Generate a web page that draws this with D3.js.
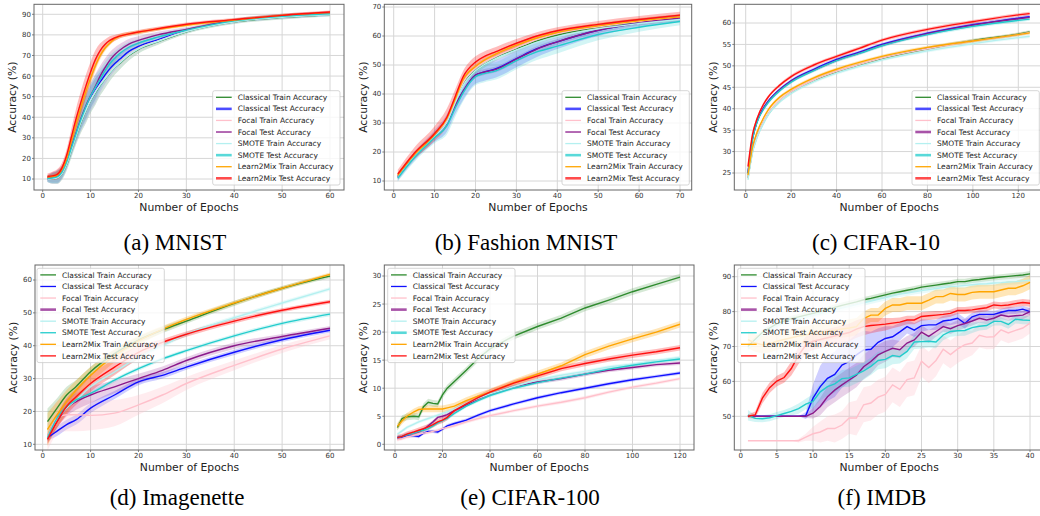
<!DOCTYPE html>
<html lang="en">
<head>
<meta charset="UTF-8">
<title>Accuracy vs epochs</title>
<script src="https://d3js.org/d3.v7.min.js"></script>
<style>
  body { margin: 0; background: #fff; }
  svg { display: block; }
</style>
</head>
<body>
<div id="chart"></div>
<script>
// legend order, shared by every panel
const seriesNames = ['Classical Train Accuracy', 'Classical Test Accuracy', 'Focal Train Accuracy', 'Focal Test Accuracy',
  'SMOTE Train Accuracy', 'SMOTE Test Accuracy', 'Learn2Mix Train Accuracy', 'Learn2Mix Test Accuracy'];
const seriesColors = ['#2e8b2e', '#1010ff', '#ffc0cb', '#8b1a8b', '#b4f0f0', '#22cccc', '#ffa500', '#ff1010'];

// (a) MNIST
const mnistEpochs = [1, 2, 3, 4, 5, 6, 7, 8, 9, 10, 11, 12, 13, 14, 15, 16, 18, 20, 24, 30, 40, 50, 60];
const mnistValues = [
  [10, 10.2, 10.6, 12.5, 17, 24, 31, 37.5, 43, 48, 52, 55.5, 58.5, 61.5, 64, 66, 70, 73, 76.6, 81.5, 86.3, 88.5, 89.8],
  [10, 10.3, 10.8, 13, 18, 25, 32, 38.5, 44, 49, 53, 57, 60.5, 63.5, 66, 68, 72, 74.4, 77.6, 82, 86.6, 88.8, 90],
  [10, 10.2, 10.7, 12.8, 17.5, 24.5, 31.5, 38, 43.5, 48.5, 52.5, 56, 59, 62, 64.5, 66.5, 70.5, 73.5, 77, 81.8, 86.5, 88.7, 89.9],
  [10.5, 10.8, 11.3, 13.5, 18.5, 25.5, 32.5, 39.5, 45.5, 50.5, 55, 60, 64, 67.6, 70.3, 72.4, 75.5, 77.3, 80, 82.7, 87, 89.3, 90.5],
  [10, 10.2, 10.6, 12.6, 17.2, 24, 31, 37.8, 43.2, 48.2, 52.2, 55.7, 58.7, 61.6, 64.2, 66.2, 70.2, 73.2, 76.8, 81.6, 86.4, 88.6, 89.7],
  [10.2, 10.5, 11, 13.2, 18.2, 25.2, 32.2, 39, 45, 50.3, 54.5, 58.5, 62.5, 66, 68.5, 70.8, 74, 76, 78.9, 82.3, 86.8, 89, 90.2],
  [11, 11.2, 11.8, 14.5, 20, 28.5, 37, 45, 52.5, 59, 65, 70, 73.5, 76, 78, 79.3, 80.5, 81.3, 82.8, 84.7, 87.2, 89.5, 90.8],
  [11.2, 11.5, 12.2, 15.3, 21.5, 30.5, 39.5, 47.5, 55, 62, 68, 72.4, 75.3, 77.3, 78.5, 79.4, 80.5, 81.4, 83, 85.2, 87.4, 89.5, 91.1]
];
const mnistWide = [1.5, 2.5, 3, 3, 3, 3.5, 4, 5, 6, 6, 6, 5, 4.5, 4, 3.5, 3, 2.5, 2, 1.5, 1, 1, 1, 0.8];
const mnistOrange = [1, 1, 1.5, 2, 2.5, 3, 3.5, 3.5, 3.5, 3, 2.5, 2, 1.5, 1.2, 1, 1, 1, 1, 0.8, 0.7, 0.7, 0.7, 0.7];
const mnistRed = [1.5, 2, 2.5, 2.5, 3, 4, 5, 5.5, 5.5, 5, 4.5, 3.5, 2.5, 2, 1.5, 1.2, 1, 1, 1, 0.8, 0.8, 0.8, 0.8];
const mnistBands = [mnistWide, mnistWide, mnistWide, mnistWide, mnistWide, mnistWide, mnistOrange, mnistRed];

// (b) Fashion MNIST
const fashionEpochs = [1, 5, 10, 13, 15, 17, 20, 22, 25, 30, 35, 40, 50, 60, 70];
const fashionValues = [
  [11.5, 18.7, 25.6, 30.5, 37, 43.5, 48, 50, 52.5, 55.5, 58.3, 60.3, 63, 64.8, 66.3],
  [11.3, 18.5, 25.5, 30, 36, 41, 46.5, 47.5, 48.7, 52.2, 55.6, 58, 62, 64.5, 66.1],
  [11.5, 18.6, 25.7, 30.8, 37.5, 44, 49, 51, 53, 56, 58.8, 60.8, 63.2, 65, 66.4],
  [11.5, 18.5, 25.5, 30, 36, 41, 46.5, 47.5, 48.5, 52, 55.5, 58, 62, 64.5, 66.2],
  [11.2, 18.3, 25.3, 30.2, 36.8, 43, 48, 50, 52.3, 55.2, 57.8, 59.8, 62.5, 64.3, 65.7],
  [11, 18, 25, 29, 35, 40.5, 46, 47, 48, 51.5, 54.5, 56.5, 60.5, 63, 65],
  [12, 19, 26, 31.5, 38, 45, 49.5, 51.5, 53.8, 56.8, 59.3, 61.2, 63.5, 65.2, 66.6],
  [12.4, 19.5, 26.4, 32, 39, 46, 51, 52.8, 54.6, 57.5, 60, 61.8, 64, 65.7, 67.2]
];
const fashionWide = [1.2, 1.5, 2, 3, 3, 3, 3, 3, 3, 3, 2.8, 2.5, 2, 1.5, 1.3];
const fashionRed = [1.5, 2, 2.5, 3, 2.5, 2, 2, 1.8, 1.6, 1.5, 1.3, 1.2, 1.2, 1.2, 1.2];
const fashionBands = [1, fashionWide, 1, 1, 1, fashionWide, 1, fashionRed];

// (c) CIFAR-10
const cifar10Epochs = [1, 3, 5, 8, 10, 15, 20, 30, 40, 50, 60, 80, 100, 120, 125];
const cifar10Values = [
  [23.8, 30, 33.5, 37, 38.8, 41.8, 43.8, 46.6, 48.6, 50.2, 51.7, 54, 55.9, 57.4, 57.9],
  [25, 33, 37, 40.3, 41.8, 44.5, 46.5, 49.2, 51.5, 53.2, 55, 57.6, 59.6, 61.1, 61.5],
  [23.8, 30, 33.6, 37.1, 38.9, 41.9, 43.9, 46.7, 48.7, 50.3, 51.8, 54, 55.8, 57.3, 57.8],
  [25, 33, 37, 40.2, 41.7, 44.4, 46.4, 49, 51.3, 53, 54.8, 57.5, 59.5, 61, 61.3],
  [23.4, 29.7, 33.2, 36.7, 38.6, 41.6, 43.6, 46.3, 48.3, 49.9, 51.4, 53.5, 55.2, 56.6, 56.9],
  [24.8, 32.8, 36.8, 40, 41.5, 44.2, 46.2, 48.9, 51.2, 52.9, 54.7, 57.3, 59.2, 60.6, 60.9],
  [24.5, 31, 34.5, 38, 39.8, 42.7, 44.5, 47.2, 49.2, 50.8, 52.2, 54.3, 55.8, 57.3, 57.7],
  [26.5, 34, 37.7, 41.2, 42.8, 45.5, 47.5, 50.2, 52.2, 54.1, 56, 58.5, 60.3, 61.9, 62.2]
];
const cifar10Bands = [0.4, 0.4, 0.4, 0.4, 0.4, 0.4, 0.4, 0.4];

// (d) Imagenette
const imagenetteEpochs = [1, 3, 5, 7, 10, 15, 20, 25, 30, 40, 50, 60];
const imagenetteValues = [
  [16.9, 21, 25, 27.6, 32.1, 37.6, 41.7, 44.8, 47.5, 52.9, 57.5, 61.2],
  [12, 14, 16, 17.5, 21, 25, 29, 31, 33.5, 38, 41.8, 44.7],
  [12, 18, 19, 19, 18.8, 19.5, 22, 25, 28.5, 34, 39, 43],
  [11.8, 17, 21, 23, 25, 27.5, 30, 32.5, 35.5, 40, 42.8, 45.3],
  [12, 17.5, 21, 23.5, 27.5, 32, 36.5, 40, 43.5, 48.5, 53, 57.3],
  [12, 18, 21.5, 23.5, 25.5, 29.5, 33, 36, 38.5, 43, 46.8, 49.6],
  [14.5, 19, 23, 26.5, 31, 37, 41.5, 45, 48, 53, 57.5, 61.7],
  [11.5, 17, 21.5, 24.5, 28.5, 33.5, 38, 41, 43.5, 47.5, 50.8, 53.4]
];
const imagenetteBands = [
  [4, 3, 2.5, 2, 1.5, 1.2, 1, 1, 0.8, 0.8, 0.7, 0.7],
  [1, 1.5, 1.5, 1.5, 1.5, 1.2, 1, 1, 0.8, 0.8, 0.7, 0.7],
  [4, 5, 5, 5, 4.5, 4, 3, 2.5, 2, 1.5, 1.2, 1],
  [1.5, 2, 2.5, 2.5, 2.5, 2, 1.5, 1.2, 1, 1, 0.8, 0.7],
  0.6,
  0.6,
  [5, 4, 3.5, 3, 2.5, 2, 1.5, 1, 0.8, 0.7, 0.6, 0.6],
  [1.5, 2, 2.5, 2.5, 2.5, 2.5, 2, 1, 0.8, 0.7, 0.6, 0.6]
];

// (e) CIFAR-100
const cifar100Epochs = [1, 3, 5, 8, 10, 12, 14, 16, 18, 20, 22, 25, 30, 35, 40, 50, 60, 70, 80, 90, 100, 110, 120];
const cifar100Values = [
  [3, 4.6, 4.9, 5, 4.9, 6.7, 7.5, 7.3, 7.2, 8.8, 10, 11.2, 13.2, 15.3, 17, 19.3, 21, 22.5, 24.3, 25.7, 27.2, 28.5, 29.8],
  [1.2, 1.3, 1.5, 1.5, 1.4, 2, 2.3, 2.3, 2.2, 2.7, 3.3, 3.7, 4.3, 5.2, 6, 7.2, 8.3, 9.2, 10, 10.8, 11.5, 12.1, 12.7],
  [0.8, 1, 1.3, 1.6, 1.8, 2, 2.1, 2.3, 2.5, 2.8, 3, 3.3, 4, 4.6, 5.1, 6, 6.8, 7.5, 8.3, 9.3, 10.2, 10.9, 11.7],
  [1.2, 1.4, 1.7, 2, 2.2, 2.6, 3.3, 4, 4.8, 5, 5.3, 6, 7, 8.1, 9, 10.3, 11.1, 11.7, 12.5, 13.2, 13.7, 14.2, 14.5],
  [1.8, 2.4, 3, 3.6, 4, 4.3, 4.6, 4.9, 5.2, 5.5, 5.8, 6.3, 7.3, 8.2, 9, 10.3, 11.5, 12.3, 13, 13.8, 14.3, 14.9, 15.5],
  [1.2, 1.4, 1.7, 2, 2.3, 2.5, 2.8, 3.3, 3.8, 4.2, 4.6, 5.5, 6.8, 7.8, 8.7, 10, 11, 11.8, 12.5, 13.4, 14.1, 14.7, 15.2],
  [3.2, 4.2, 5, 5.8, 6.2, 6.3, 6.3, 6.3, 6.3, 6.3, 6.5, 6.8, 7.8, 8.6, 9.3, 11, 12.5, 14, 16, 17.5, 18.8, 20, 21.4],
  [1.2, 1.4, 1.8, 2.2, 2.5, 2.8, 3.1, 3.5, 4, 4.3, 4.8, 6, 7.2, 8.3, 9.3, 10.9, 12.2, 13.5, 14.4, 15.2, 15.9, 16.5, 17.2]
];
const cifar100Bands = [0.6, 0.3, 0.3, 0.35, 0.3, 0.3, 0.6, 0.5];

// (f) IMDB
const imdbEpochs = d3.range(1, 41);
const imdbValues = [
  [70, 72, 74, 75.3, 76.5, 77.3, 78, 78.5, 79, 79.5, 80, 80.6, 81.2, 81.8, 82.3, 82.8, 83.4, 83.8, 84.3, 84.8,
   85.3, 85.7, 86.1, 86.5, 87, 87.3, 87.6, 87.9, 88.2, 88.6, 88.6, 89, 89.2, 89.5, 89.7, 89.9, 90.1, 90.3, 90.5, 90.8],
  [50, 50, 50, 50, 50, 50, 50, 50, 50.2, 55.2, 58.5, 60.9, 62, 64.7, 65.7, 67.6, 69, 69.2, 71.2, 72.3,
   72.8, 74.2, 75.7, 74.7, 76, 76.2, 76.2, 77.3, 77.6, 78.1, 76.6, 78.5, 79.2, 79.2, 79.2, 79.8, 80.3, 80.3, 80.7, 80],
  [43, 43, 43, 43, 43, 43, 43, 43, 44, 45, 45.5, 46.5, 46.5, 47.5, 49.5, 49.5, 53.3, 53.8, 55.5, 56.3,
   59, 57.7, 60.5, 61, 65.8, 64, 66, 69.2, 67.7, 69.3, 70.5, 71, 73.2, 72.7, 72.8, 74.8, 73.9, 74.6, 75.3, 76.7],
  [50, 50, 50, 50, 50, 50, 50, 50, 50, 50.9, 52.8, 55.6, 57.5, 59, 60.4, 61.8, 64.2, 65.7, 67.6, 68.6,
   69.5, 69.1, 71, 71.9, 74.1, 72.9, 74.3, 75.7, 75.1, 76, 76.6, 77.3, 78.1, 77.6, 78.1, 79, 78.6, 78.8, 79, 80],
  [69.5, 71.5, 73.5, 74.8, 76, 76.8, 77.5, 78, 78.5, 79, 79.5, 80, 80.5, 81, 81.5, 82, 82.5, 83, 83.5, 84,
   84.5, 85, 85.3, 85.7, 86, 86.3, 86.6, 86.9, 87.2, 87.3, 87.5, 87.7, 87.9, 88, 88.2, 88.3, 88.5, 88.6, 88.8, 89],
  [50.3, 49.4, 49.3, 49.6, 50.2, 50.8, 51.4, 52.2, 53.5, 54.3, 57, 58.5, 59.3, 60.8, 61, 62, 63, 64.3, 66, 66.3,
   67.4, 67.1, 68.6, 71.3, 71.4, 71.5, 71.3, 73.3, 74.3, 74.5, 74.6, 75.4, 75.8, 76, 77.2, 77.2, 76.3, 77.8, 77.6, 77.5],
  [72, 71, 70.5, 70.8, 71.5, 72, 72.5, 73, 73.3, 73.8, 74, 74.3, 74.7, 75, 75.3, 75.7, 78, 79, 79, 80.9,
   81.9, 81.9, 82.4, 82.4, 82.4, 83.3, 84.3, 84.3, 85.2, 84.9, 84.9, 85.5, 85.7, 85.7, 85.7, 86.2, 86.7, 86.7, 87.4, 88.4],
  [50, 50.4, 55.2, 58.2, 60.1, 61.1, 63.7, 67.5, 70.4, 71.5, 72, 72.5, 73, 73.5, 74, 75, 75.7, 76, 76.2, 76.4,
   76.7, 77, 77.6, 77.6, 78.6, 78.8, 79, 79.2, 79.5, 80.3, 80.3, 80.5, 80.8, 81.1, 81.9, 81.7, 81.9, 82.3, 82.6, 82.4]
];
const imdbBands = [
  0.8,
  [0, 0, 0, 0, 0, 0, 0, 0, 1, 4, 6, 6.5, 6.5, 6.5, 6, 6, 5.5, 5, 4, 3.5, 3, 2.5, 2, 2, 1.8, 1.5, 1.5, 1.5, 1.5, 1.5, 1.5, 1.2, 1.2, 1.2, 1, 1, 1, 1, 1, 1],
  [0, 0, 0, 0, 0, 0, 0, 0.5, 1, 2, 3, 3.5, 4, 4, 4.5, 5, 5, 5, 5, 5, 5, 5, 5, 5, 4.5, 4.5, 4.5, 4, 4, 4, 4, 3.5, 3.5, 3.5, 3.5, 3, 3, 3, 3, 3],
  [0, 0, 0, 0, 0, 0, 0, 0, 0.5, 1.5, 2.5, 3, 3.5, 3.5, 3.5, 3.5, 3.5, 3.5, 3, 3, 2.5, 2.5, 2, 2, 2, 1.8, 1.5, 1.5, 1.5, 1.5, 1.3, 1.3, 1.3, 1.2, 1.2, 1.2, 1.2, 1.2, 1.2, 1.2],
  0.8,
  [1.5, 1, 1, 1, 1, 1, 1.2, 1.5, 1.5, 2, 2.5, 2.5, 2.5, 2.5, 2.5, 2.5, 2.5, 2.5, 2.5, 2.5, 2.5, 2, 2, 2, 2, 1.8, 1.8, 1.5, 1.5, 1.5, 1.5, 1.5, 1.2, 1.2, 1.2, 1.2, 1.2, 1.2, 1.2, 1.2],
  [2.5, 2.5, 2.5, 2.5, 2.5, 2.5, 2.5, 2.5, 2.5, 2.5, 2.5, 2.5, 2.5, 2.5, 2.5, 2.5, 2, 2, 2, 2, 2, 2, 2, 2, 2, 2, 2, 2, 2, 2, 2, 2, 2, 2, 2, 2, 2, 2, 2, 2],
  [0.5, 1, 1.5, 1.5, 1.5, 1.5, 2, 2.5, 2.5, 2.5, 2.5, 2.5, 2.5, 2.5, 2.5, 2.5, 2.5, 2.2, 2, 1.8, 1.5, 1.3, 1.2, 1.2, 1.2, 1.2, 1.2, 1, 1, 1, 1, 1, 1, 1, 1, 1, 1, 1, 1, 1]
];

// panel layout (pixel boxes and tick-anchored scales)
const panels = [
  { caption: '(a) MNIST', capX: 175, capY: 250, epochs: mnistEpochs, values: mnistValues, bands: mnistBands,
    box: [34, 4.3, 344, 190], xMap: [[0, 60], [42.7, 330]], yMap: [[10, 90], [179, 14.3]],
    xTicks: d3.range(0, 61, 10), yTicks: d3.range(10, 91, 10), legend: [212.7, 90.7], thick: [1, 5, 7], smooth: true },
  { caption: '(b) Fashion MNIST', capX: 526, capY: 250, epochs: fashionEpochs, values: fashionValues, bands: fashionBands,
    box: [384.3, 4.3, 691.7, 190], xMap: [[0, 70], [393.7, 680]], yMap: [[10, 70], [181, 7]],
    xTicks: d3.range(0, 71, 10), yTicks: d3.range(10, 71, 10), legend: [562, 90.7], thick: [1, 5, 7], smooth: true },
  { caption: '(c) CIFAR-10', capX: 876, capY: 250, epochs: cifar10Epochs, values: cifar10Values, bands: cifar10Bands,
    box: [734.3, 4.3, 1044, 190], xMap: [[0, 120], [745.7, 1018.3]], yMap: [[25, 60], [173, 23]],
    xTicks: d3.range(0, 121, 20), yTicks: d3.range(25, 61, 5), legend: [912, 90.7], thick: [1, 3, 5, 7], smooth: true },
  { caption: '(d) Imagenette', capX: 177, capY: 505, epochs: imagenetteEpochs, values: imagenetteValues, bands: imagenetteBands,
    box: [35, 265, 344, 450], xMap: [[0, 60], [42.7, 330]], yMap: [[10, 60], [444.3, 280]],
    xTicks: d3.range(0, 61, 10), yTicks: d3.range(10, 61, 10), legend: [37, 268.3], thick: [3], smooth: true },
  { caption: '(e) CIFAR-100', capX: 530, capY: 505, epochs: cifar100Epochs, values: cifar100Values, bands: cifar100Bands,
    box: [384.3, 265, 694, 450], xMap: [[0, 120], [395, 680]], yMap: [[0, 30], [444.3, 276]],
    xTicks: d3.range(0, 121, 20), yTicks: d3.range(0, 31, 5), legend: [387.7, 268.3], thick: [3, 5], smooth: false },
  { caption: '(f) IMDB', capX: 882, capY: 505, epochs: imdbEpochs, values: imdbValues, bands: imdbBands,
    box: [734.3, 265, 1044, 450], xMap: [[0, 40], [740.7, 1030]], yMap: [[50, 90], [416.3, 276.7]],
    xTicks: d3.range(0, 41, 5), yTicks: d3.range(50, 91, 10), legend: [737.7, 268.3], thick: [3], smooth: false }
];

const W = 1040, H = 516;
const svg = d3.select('#chart').append('svg')
  .attr('width', W)
  .attr('height', H)
  .attr('font-family', 'DejaVu Sans, sans-serif');

svg.append('rect').attr('width', W).attr('height', H).attr('fill', '#fff');

panels.forEach((p, pi) => {
  const [left, top, right, bottom] = p.box;
  const x = d3.scaleLinear().domain(p.xMap[0]).range(p.xMap[1]);
  const y = d3.scaleLinear().domain(p.yMap[0]).range(p.yMap[1]);
  const g = svg.append('g');

  // clip to the axes box
  const clipId = 'clip' + pi;
  svg.append('clipPath').attr('id', clipId)
    .append('rect').attr('x', left).attr('y', top).attr('width', right - left).attr('height', bottom - top);

  // grid
  g.append('g').selectAll('line').data(p.xTicks).join('line')
    .attr('x1', d => x(d)).attr('x2', d => x(d)).attr('y1', top).attr('y2', bottom)
    .attr('stroke', '#d6d6d6').attr('stroke-width', 1);
  g.append('g').selectAll('line').data(p.yTicks).join('line')
    .attr('y1', d => y(d)).attr('y2', d => y(d)).attr('x1', left).attr('x2', right)
    .attr('stroke', '#d6d6d6').attr('stroke-width', 1);

  const plot = g.append('g').attr('clip-path', `url(#${clipId})`);
  const curve = p.smooth ? d3.curveMonotoneX : d3.curveLinear;
  const bw = (s, j) => Array.isArray(p.bands[s]) ? p.bands[s][j] : p.bands[s];

  // bands first
  p.values.forEach((vals, s) => {
    const pts = vals.map((v, j) => ({ e: p.epochs[j], v, b: bw(s, j) }));
    const area = d3.area().curve(curve)
      .x(d => x(d.e)).y0(d => y(d.v - d.b)).y1(d => y(d.v + d.b));
    plot.append('path').datum(pts)
      .attr('d', area)
      .attr('fill', seriesColors[s])
      .attr('fill-opacity', s === 2 || s === 4 ? 0.3 : (s >= 6 ? 0.28 : 0.2));
  });

  // lines
  p.values.forEach((vals, s) => {
    const pts = vals.map((v, j) => ({ e: p.epochs[j], v }));
    const line = d3.line().curve(curve).x(d => x(d.e)).y(d => y(d.v));
    plot.append('path').datum(pts)
      .attr('d', line)
      .attr('fill', 'none')
      .attr('stroke', seriesColors[s])
      .attr('stroke-width', 1.4);
  });

  // spines
  g.append('rect').attr('x', left).attr('y', top).attr('width', right - left).attr('height', bottom - top)
    .attr('fill', 'none').attr('stroke', '#666').attr('stroke-width', 1);

  // ticks and tick labels
  const tickFont = 7;
  p.xTicks.forEach(t => {
    g.append('line').attr('x1', x(t)).attr('x2', x(t)).attr('y1', bottom).attr('y2', bottom + 2)
      .attr('stroke', '#666').attr('stroke-width', 0.8);
    g.append('text').attr('x', x(t)).attr('y', bottom + 5.5).attr('dy', '0.35em')
      .attr('text-anchor', 'middle').attr('font-size', tickFont).attr('fill', '#333').text(t);
  });
  p.yTicks.forEach(t => {
    g.append('line').attr('x1', left - 2).attr('x2', left).attr('y1', y(t)).attr('y2', y(t))
      .attr('stroke', '#666').attr('stroke-width', 0.8);
    g.append('text').attr('x', left - 3).attr('y', y(t)).attr('dy', '0.35em')
      .attr('text-anchor', 'end').attr('font-size', tickFont).attr('fill', '#333').text(t);
  });

  // axis labels
  g.append('text').attr('x', (left + right) / 2)
    .attr('y', bottom + 20.5).attr('text-anchor', 'middle').attr('font-size', 10.8).attr('fill', '#222')
    .text('Number of Epochs');
  g.append('text')
    .attr('transform', `translate(${left - 21.5},${(top + bottom) / 2}) rotate(-90)`)
    .attr('dy', '0.35em').attr('text-anchor', 'middle').attr('font-size', 10.8).attr('fill', '#222')
    .text('Accuracy (%)');

  // legend
  const [lx, ly] = p.legend;
  const lg = g.append('g');
  lg.append('rect').attr('x', lx).attr('y', ly).attr('width', 127.3).attr('height', 94.3).attr('rx', 2)
    .attr('fill', '#fff').attr('fill-opacity', 0.8).attr('stroke', '#ccc').attr('stroke-width', 0.8);
  seriesNames.forEach((name, s) => {
    const cy = ly + 6.6 + s * 11.57;
    const thick = p.thick.includes(s);
    lg.append('line').attr('x1', lx + 3.3).attr('x2', lx + 19).attr('y1', cy).attr('y2', cy)
      .attr('stroke', seriesColors[s]).attr('stroke-width', thick ? 2.6 : 1.3)
      .attr('stroke-opacity', thick ? 0.75 : 1);
    lg.append('text').attr('x', lx + 25).attr('y', cy).attr('dy', '0.35em')
      .attr('font-size', 7.5).attr('fill', '#222').text(name);
  });

  // caption
  svg.append('text').attr('x', p.capX).attr('y', p.capY).attr('text-anchor', 'middle')
    .attr('font-family', 'Liberation Serif, Times New Roman, serif').attr('font-size', 23).attr('fill', '#000')
    .text(p.caption);
});
</script>
</body>
</html>
